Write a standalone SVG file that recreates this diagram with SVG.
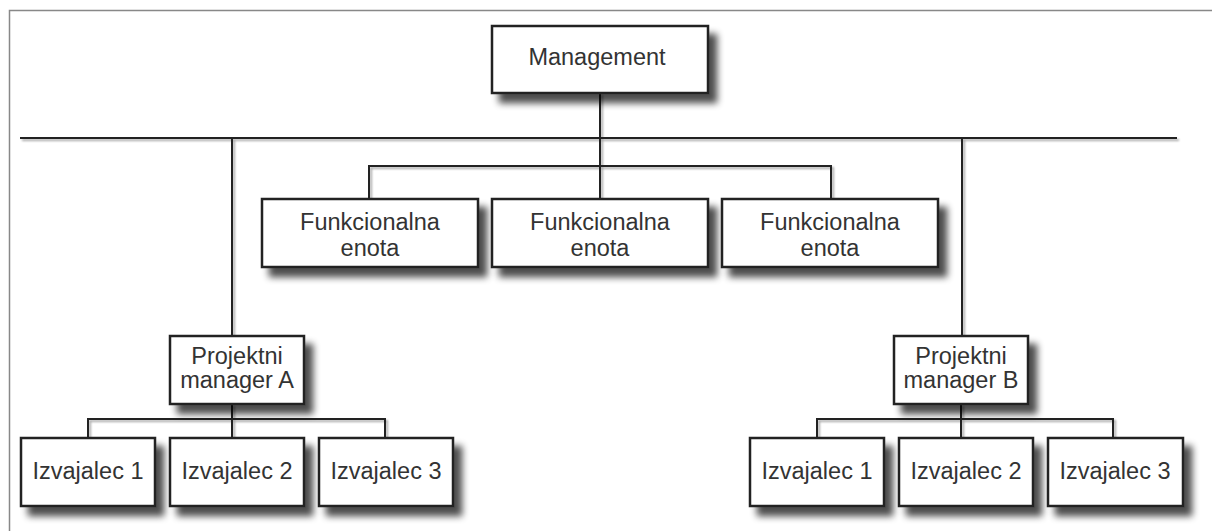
<svg xmlns="http://www.w3.org/2000/svg" width="1213" height="531" viewBox="0 0 1213 531">
<defs>
<filter id="sh" x="-20%" y="-20%" width="150%" height="160%">
<feGaussianBlur in="SourceAlpha" stdDeviation="3.5"/>
<feOffset dx="8" dy="9" result="b"/>
<feComponentTransfer><feFuncA type="linear" slope="0.7"/></feComponentTransfer>
<feMerge><feMergeNode/><feMergeNode in="SourceGraphic"/></feMerge>
</filter>
<filter id="lsh" x="-5%" y="-200%" width="110%" height="500%">
<feGaussianBlur in="SourceAlpha" stdDeviation="1"/>
<feOffset dx="2" dy="2"/>
<feComponentTransfer><feFuncA type="linear" slope="0.35"/></feComponentTransfer>
<feMerge><feMergeNode/><feMergeNode in="SourceGraphic"/></feMerge>
</filter>
</defs>
<style>
.box{fill:#fff;stroke:#222;stroke-width:2.5}
.t{font-family:"Liberation Sans",Arial,sans-serif;font-size:23.5px;fill:#333;text-anchor:middle}
.c{fill:none;stroke:#222;stroke-width:2}
.frame{fill:none;stroke:#888;stroke-width:1.5}
</style>
<rect width="1213" height="531" fill="#fff"/>
<path class="frame" d="M9.5 531 V10.5 H1212"/>
<g id="connectors" filter="url(#lsh)">
<path class="c" d="M20 138 H1177"/>
<path class="c" d="M600 93 V166"/>
<path class="c" d="M369 198 V166 H831 V198"/>
<path class="c" d="M600 166 V198"/>
<path class="c" d="M232 138 V336"/>
<path class="c" d="M962 138 V336"/>
<path class="c" d="M232 404 V438"/>
<path class="c" d="M88 438 V419 H385 V438"/>
<path class="c" d="M961 404 V438"/>
<path class="c" d="M817 438 V419 H1113 V438"/>
</g>
<g id="management"><rect class="box" x="492" y="26" width="216" height="67" filter="url(#sh)"/><text class="t" x="597" y="65">Management</text></g>
<g id="funk1"><rect class="box" x="262" y="199" width="216" height="68" filter="url(#sh)"/><text class="t" x="370" y="230">Funkcionalna</text><text class="t" x="370" y="256">enota</text></g>
<g id="funk2"><rect class="box" x="492" y="199" width="216" height="68" filter="url(#sh)"/><text class="t" x="600" y="230">Funkcionalna</text><text class="t" x="600" y="256">enota</text></g>
<g id="funk3"><rect class="box" x="722" y="199" width="216" height="68" filter="url(#sh)"/><text class="t" x="830" y="230">Funkcionalna</text><text class="t" x="830" y="256">enota</text></g>
<g id="pmA"><rect class="box" x="170" y="336" width="134" height="68" filter="url(#sh)"/><text class="t" x="237" y="364">Projektni</text><text class="t" x="237" y="388">manager A</text></g>
<g id="pmB"><rect class="box" x="894" y="336" width="134" height="68" filter="url(#sh)"/><text class="t" x="961" y="364">Projektni</text><text class="t" x="961" y="388">manager B</text></g>
<g id="a1"><rect class="box" x="21" y="438" width="134" height="68" filter="url(#sh)"/><text class="t" x="88" y="479">Izvajalec 1</text></g>
<g id="a2"><rect class="box" x="170" y="438" width="134" height="68" filter="url(#sh)"/><text class="t" x="237" y="479">Izvajalec 2</text></g>
<g id="a3"><rect class="box" x="319" y="438" width="134" height="68" filter="url(#sh)"/><text class="t" x="386" y="479">Izvajalec 3</text></g>
<g id="b1"><rect class="box" x="750" y="438" width="134" height="68" filter="url(#sh)"/><text class="t" x="817" y="479">Izvajalec 1</text></g>
<g id="b2"><rect class="box" x="899" y="438" width="134" height="68" filter="url(#sh)"/><text class="t" x="966" y="479">Izvajalec 2</text></g>
<g id="b3"><rect class="box" x="1048" y="438" width="135" height="68" filter="url(#sh)"/><text class="t" x="1115" y="479">Izvajalec 3</text></g>
</svg>
